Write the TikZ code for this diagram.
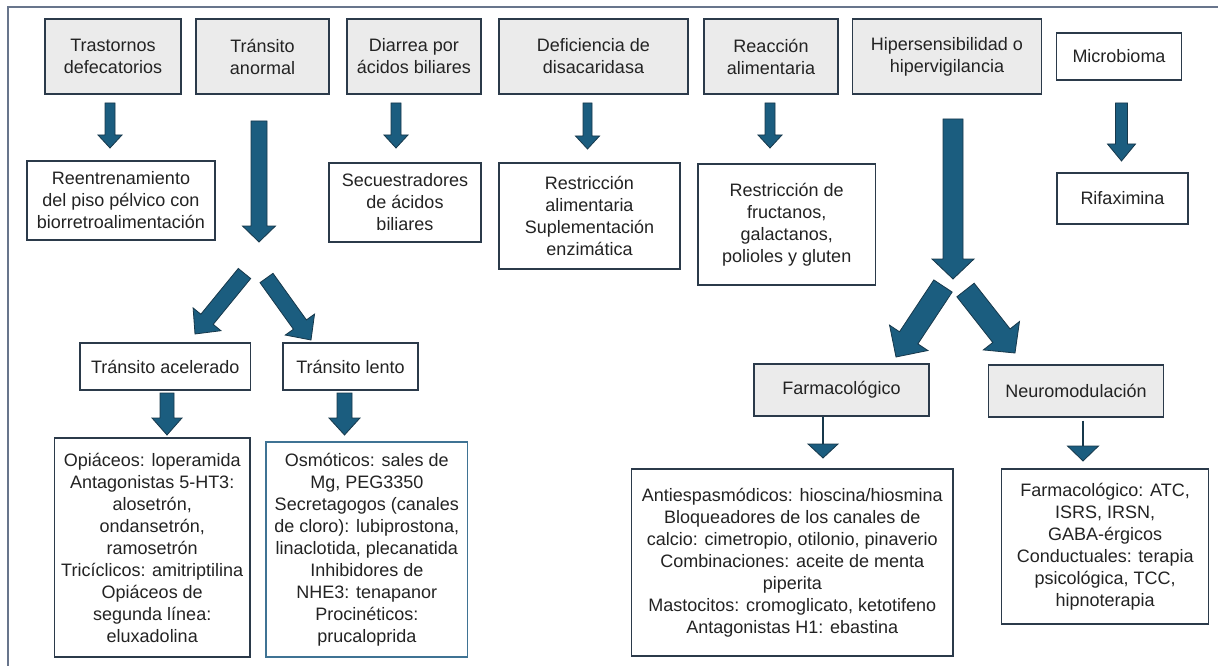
\documentclass[tikz,border=0pt]{standalone}
\usepackage{fontspec}
\setmainfont{Liberation Sans}
\usetikzlibrary{calc}

\definecolor{boxcol}{HTML}{2B3A4A}
\definecolor{bluebox}{HTML}{3F7394}
\definecolor{greyfill}{HTML}{EBEBEB}
\definecolor{arrfill}{HTML}{1B5D7F}
\definecolor{arrline}{HTML}{17384B}
\definecolor{txtcol}{HTML}{232323}
\definecolor{framecol}{HTML}{68758C}

% block arrow: tail, tip, half shaft width, half head width, head length
\newcommand\blockarr[5]{%
  \coordinate (bh) at ($(#2)!#5!(#1)$);
  \filldraw[arrshape] ($(#1)!#3!90:(#2)$) -- ($(bh)!#3!90:(#2)$)
    -- ($(bh)!#4!90:(#2)$) -- (#2) -- ($(bh)!#4!-90:(#2)$)
    -- ($(bh)!#3!-90:(#2)$) -- ($(#1)!#3!-90:(#2)$) -- cycle;
}

\begin{document}
\begin{tikzpicture}[x=1pt,y=-1pt,
  box/.style={draw=boxcol, line width=1.3pt, fill=white, text=txtcol,
    align=center, inner sep=0pt,
    font=\fontsize{18}{22}\selectfont},
  greybox/.style={box, fill=greyfill},
  arrshape/.style={fill=arrfill, draw=arrline, line width=0.8pt, line join=miter},
  thinline/.style={draw=arrline, line width=2pt}]

\useasboundingbox (0,0) rectangle (1218,666);

% outer frame
\draw[framecol, line width=2pt] (8,666) -- (8,7) -- (1218,7);

% causes
\node[greybox, minimum width=136, minimum height=75] (t1) at (113,56.5) {Trastornos\\defecatorios};
\node[greybox, minimum width=133, minimum height=75] (t2) at (262.5,56.5) {Tránsito\\anormal};
\node[greybox, minimum width=134, minimum height=75] (t3) at (414,56.5) {Diarrea por\\ácidos biliares};
\node[greybox, minimum width=189, minimum height=75] (t4) at (593.5,56.5) {Deficiencia de\\disacaridasa};
\node[greybox, minimum width=134, minimum height=75] (t5) at (771,56.5) {Reacción\\alimentaria};
\node[greybox, minimum width=189, minimum height=75] (t6) at (947,56.5) {Hipersensibilidad o\\hipervigilancia};
\node[box, minimum width=124.5, minimum height=47] (t7) at (1119,56.5) {Microbioma};

% treatments
\node[box, minimum width=188, minimum height=79] (r1) at (121,200.5) {Reentrenamiento\\del piso pélvico con\\biorretroalimentación};
\node[box, minimum width=152, minimum height=79] (r3) at (405,202.5) {Secuestradores\\de ácidos\\biliares};
\node[box, minimum width=181, minimum height=106] (r4) at (589.5,216) {Restricción\\alimentaria\\Suplementación\\enzimática};
\node[box, minimum width=177.5, minimum height=121] (r5) at (786.75,224.5) {Restricción de\\fructanos,\\galactanos,\\polioles y gluten};
\node[box, minimum width=131, minimum height=51] (r7) at (1122.5,198.5) {Rifaximina};

% sub-branches
\node[box, minimum width=170.6, minimum height=47] (s1) at (165.3,366.5) {Tránsito acelerado};
\node[box, minimum width=135, minimum height=47] (s2) at (350.5,366.5) {Tránsito lento};
\node[greybox, minimum width=175, minimum height=52] (s3) at (841.5,390) {Farmacológico};
\node[greybox, minimum width=175, minimum height=52] (s4) at (1076,391) {Neuromodulación};

% detailed treatments
\node[box, minimum width=195.5, minimum height=219] (d1) at (152.25,547.5) {Opiáceos: loperamida\\Antagonistas 5-HT3:\\alosetrón,\\ondansetrón,\\ramosetrón\\Tricíclicos: amitriptilina\\Opiáceos de\\segunda línea:\\eluxadolina};
\node[box, draw=bluebox, minimum width=201.6, minimum height=215] (d2) at (366.8,549.5) {Osmóticos: sales de\\Mg, PEG3350\\Secretagogos (canales\\de cloro): lubiprostona,\\linaclotida, plecanatida\\Inhibidores de\\NHE3: tenapanor\\Procinéticos:\\prucaloprida};
\node[box, minimum width=321.4, minimum height=187] (d3) at (792.3,562.5) {Antiespasmódicos: hioscina/hiosmina\\Bloqueadores de los canales de\\calcio: cimetropio, otilonio, pinaverio\\Combinaciones: aceite de menta\\piperita\\Mastocitos: cromoglicato, ketotifeno\\Antagonistas H1: ebastina};
\node[box, minimum width=207, minimum height=155] (d4) at (1105.15,546.5) {Farmacológico: ATC,\\ISRS, IRSN,\\GABA-érgicos\\Conductuales: terapia\\psicológica, TCC,\\hipnoterapia};

% arrow end points
\coordinate (a1s) at (110,103);    \coordinate (a1e) at (110,148);
\coordinate (a3s) at (396,103);    \coordinate (a3e) at (396,148);
\coordinate (a4s) at (587.5,103);  \coordinate (a4e) at (587.5,149);
\coordinate (a5s) at (770,103);    \coordinate (a5e) at (770,148);
\coordinate (a7s) at (1121.5,103); \coordinate (a7e) at (1121.5,161);
\coordinate (a2s) at (259,121);    \coordinate (a2e) at (259,242);
\coordinate (a2ls) at (244.5,273.5); \coordinate (a2le) at (195,334);
\coordinate (a2rs) at (266.5,278);   \coordinate (a2re) at (311,340);
\coordinate (a6s) at (953,119);    \coordinate (a6e) at (953,279);
\coordinate (a6ls) at (943,286);   \coordinate (a6le) at (896,357);
\coordinate (a6rs) at (965.5,290); \coordinate (a6re) at (1015,353);
\coordinate (b1s) at (167,393);    \coordinate (b1e) at (167,435);
\coordinate (b2s) at (344.5,393);  \coordinate (b2e) at (344.5,435);
\coordinate (c1b) at (823,444);    \coordinate (c1e) at (823,458);
\coordinate (c2b) at (1083,446);   \coordinate (c2e) at (1083,461);

% block arrows
\blockarr{a1s}{a1e}{5pt}{12pt}{13pt}
\blockarr{a3s}{a3e}{5pt}{12pt}{13pt}
\blockarr{a4s}{a4e}{4.5pt}{12pt}{13pt}
\blockarr{a5s}{a5e}{5pt}{12pt}{13pt}
\blockarr{a7s}{a7e}{6pt}{14pt}{17pt}
\blockarr{a2s}{a2e}{8pt}{16.5pt}{16pt}
\blockarr{a2ls}{a2le}{8pt}{18pt}{19pt}
\blockarr{a2rs}{a2re}{8pt}{18pt}{19pt}
\blockarr{a6s}{a6e}{10pt}{21pt}{20pt}
\blockarr{a6ls}{a6le}{11pt}{23pt}{23pt}
\blockarr{a6rs}{a6re}{11pt}{23pt}{22pt}
\blockarr{b1s}{b1e}{7pt}{15pt}{17pt}
\blockarr{b2s}{b2e}{7.5pt}{15.5pt}{17pt}

% thin arrows under the grey headings
\draw[thinline] (c1b |- s3.south) -- (c1b);
\filldraw[arrshape] ($(c1b)+(-15,0)$) -- (c1e) -- ($(c1b)+(15,0)$) -- cycle;
\draw[thinline] ($(c2b |- s4.south)+(0,3)$) -- (c2b);
\filldraw[arrshape] ($(c2b)+(-15.5,0)$) -- (c2e) -- ($(c2b)+(15.5,0)$) -- cycle;

\end{tikzpicture}
\end{document}
